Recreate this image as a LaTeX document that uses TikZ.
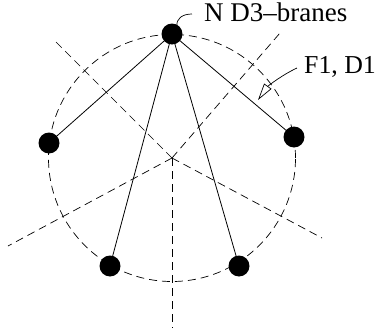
\documentclass[tikz,border=0pt]{standalone}
\usepackage{fontspec}
\setmainfont{Liberation Serif}
\usetikzlibrary{arrows.meta}
\begin{document}
\begin{tikzpicture}[x=1pt,y=-1pt,
  dot/.style={circle,fill=black,inner sep=0pt,minimum size=21pt},
  ray/.style={dash pattern=on 8pt off 5pt,line width=0.7pt},
  wire/.style={line width=0.8pt},
  lab/.style={inner sep=0pt,anchor=base west}]
\useasboundingbox (0,0) rectangle (376,335);
\coordinate (c) at (172,158);
% dashed circle
\draw[ray] (c) circle[radius=123.5pt];
% rays
\coordinate (r1) at (56,42);
\coordinate (r2) at (280,33);
\coordinate (r3) at (8,246);
\coordinate (r4) at (322,238);
\coordinate (r5) at (172,328);
\foreach \r in {r1,r2,r3,r4,r5} \draw[ray] (c) -- (\r);
% dots
\node[dot] (t) at (172,34) {};
\node[dot] (l) at (49,143) {};
\node[dot] (r) at (294,137) {};
\node[dot] (bl) at (110,266) {};
\node[dot] (br) at (239,266) {};
\foreach \d in {l,r,bl,br} \draw[wire] (t.center) -- (\d.center);
% labels
\node[lab,font=\fontsize{27}{29}\selectfont] (nd3) at (204,21) {N D3--branes};
\coordinate (ld) at (177,26);
\draw[line width=0.7pt] (ld) .. controls (176,19) and (182,14) .. (192,14);
\node[lab,font=\fontsize{25.8}{28}\selectfont] (f1) at (304,73) {F1, D1};
\coordinate (tip) at (258,100);
\draw[line width=0.7pt,-{Triangle[open,length=17pt,width=9pt]}] (297,68) .. controls (282,75) and (268,86) .. (tip);
\end{tikzpicture}
\end{document}
